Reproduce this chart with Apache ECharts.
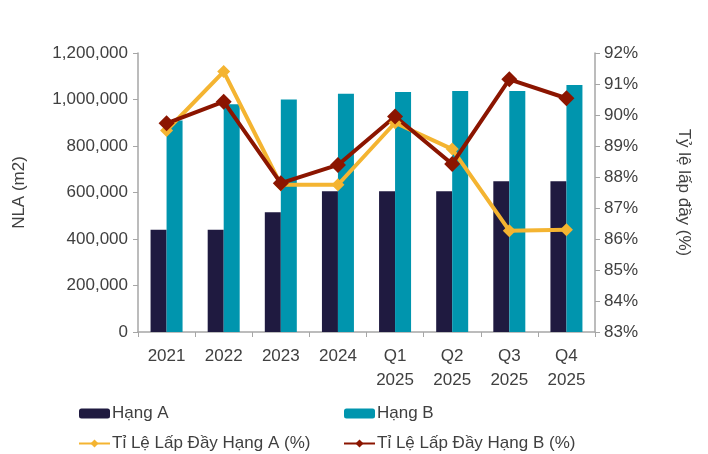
<!DOCTYPE html>
<html>
<head>
<meta charset="utf-8">
<script src="https://cdn.jsdelivr.net/npm/echarts@6/dist/echarts.min.js"></script>
<style>
  html, body { margin: 0; padding: 0; background: #fff; }
  #chart { width: 708px; height: 454px; }
</style>
</head>
<body>
<div id="chart"></div>
<script>
// chart data
const categories = ["2021", "2022", "2023", "2024", "Q1\n2025", "Q2\n2025", "Q3\n2025", "Q4\n2025"];
const nlaA = [440000, 440000, 515000, 605000, 605000, 605000, 648000, 648000];
const nlaB = [910000, 980000, 1000000, 1025000, 1032000, 1037000, 1037000, 1062000];
const occA = [89.5, 91.4, 87.75, 87.75, 89.75, 88.9, 86.27, 86.3];
const occB = [89.73, 90.43, 87.8, 88.39, 89.95, 88.42, 91.15, 90.54];

const textColor = "#404040";
const axisColor = "#a6a6a6";
const font = "Liberation Sans, Arial, sans-serif";

const legendBase = {
  orient: "vertical",
  top: 405,
  height: 49,
  padding: 0,
  itemGap: 13,
  itemWidth: 31,
  itemHeight: 10,
  textStyle: { fontSize: 17, color: textColor, fontFamily: font, padding: [0, 0, 0, -3] }
};

const chart = echarts.init(document.getElementById("chart"));
chart.setOption({
  animation: false,
  textStyle: { fontFamily: font, color: textColor },
  grid: { left: 138, right: 113, top: 53, bottom: 122 },
  legend: [
    Object.assign({}, legendBase, { left: 78, data: ["Hạng A", "Tỉ Lệ Lấp Đầy Hạng A (%)"] }),
    Object.assign({}, legendBase, { left: 343, data: ["Hạng B", "Tỉ Lệ Lấp Đầy Hạng B (%)"] })
  ],
  xAxis: {
    type: "category",
    data: categories,
    axisLine: { lineStyle: { color: axisColor, width: 1.5 } },
    axisTick: { show: true, length: 5, lineStyle: { color: axisColor } },
    axisLabel: { fontSize: 17, color: textColor, lineHeight: 24, margin: 12 }
  },
  yAxis: [
    {
      type: "value",
      min: 0,
      max: 1200000,
      interval: 200000,
      name: "NLA (m2)",
      nameLocation: "middle",
      nameGap: 110,
      nameRotate: 90,
      nameTextStyle: { fontSize: 17, color: textColor },
      axisLine: { show: true, lineStyle: { color: axisColor, width: 1.5 } },
      axisTick: { show: true, length: 5, lineStyle: { color: axisColor } },
      splitLine: { show: false },
      axisLabel: {
        fontSize: 17,
        color: textColor,
        margin: 10,
        formatter: v => v.toLocaleString("en-US")
      }
    },
    {
      type: "value",
      min: 83,
      max: 92,
      interval: 1,
      name: "Tỷ lệ lấp đầy (%)",
      nameLocation: "middle",
      nameGap: 80,
      nameRotate: -90,
      nameTextStyle: { fontSize: 17, color: textColor },
      axisLine: { show: true, lineStyle: { color: axisColor, width: 1.5 } },
      axisTick: { show: true, length: 5, lineStyle: { color: axisColor } },
      splitLine: { show: false },
      axisLabel: { fontSize: 17, color: textColor, margin: 9, formatter: "{value}%" }
    }
  ],
  series: [
    {
      name: "Hạng A",
      type: "bar",
      data: nlaA,
      barWidth: 16,
      barGap: "0%",
      itemStyle: { color: "#1f1a40" }
    },
    {
      name: "Hạng B",
      type: "bar",
      data: nlaB,
      barWidth: 16,
      barGap: "0%",
      itemStyle: { color: "#0095ae" }
    },
    {
      name: "Tỉ Lệ Lấp Đầy Hạng A (%)",
      type: "line",
      yAxisIndex: 1,
      data: occA,
      symbol: "diamond",
      symbolSize: 13,
      lineStyle: { color: "#f4b431", width: 4 },
      itemStyle: { color: "#f4b431" }
    },
    {
      name: "Tỉ Lệ Lấp Đầy Hạng B (%)",
      type: "line",
      yAxisIndex: 1,
      data: occB,
      symbol: "diamond",
      symbolSize: 16,
      lineStyle: { color: "#8b1500", width: 4 },
      itemStyle: { color: "#8b1500" }
    }
  ]
});
</script>
</body>
</html>
